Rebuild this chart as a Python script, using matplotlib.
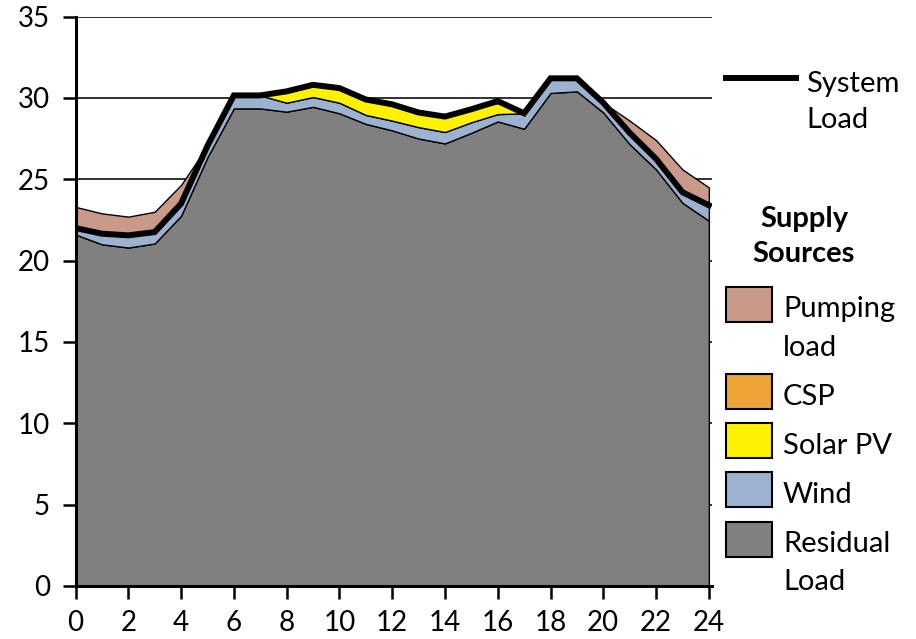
import matplotlib
matplotlib.use("Agg")
import matplotlib.pyplot as plt
from matplotlib.patches import Rectangle
from matplotlib.lines import Line2D
import numpy as np

# hourly values, GW
hours = list(range(25))
residual = [21.6, 21.0, 20.8, 21.05, 22.75, 26.35, 29.35, 29.35, 29.15, 29.45, 29.05, 28.4, 28.0,
            27.5, 27.2, 27.85, 28.55, 28.1, 30.3, 30.4, 29.1, 27.15, 25.6, 23.55, 22.45]
wind = [0.4, 0.65, 0.75, 0.7, 0.75, 0.7, 0.8, 0.8, 0.55, 0.6, 0.65, 0.55, 0.6,
        0.7, 0.7, 0.65, 0.45, 0.95, 0.9, 0.8, 0.6, 0.7, 0.65, 0.65, 0.95]
solar_pv = [0, 0, 0, 0, 0, 0, 0, 0, 0.7, 0.75, 0.9, 0.95, 1.0,
            0.9, 0.95, 0.75, 0.7, 0, 0, 0, 0, 0, 0, 0, 0]
csp = [0, 0, 0, 0, 0, 0, 0, 0, 0, 0, 0, 0, 0,
       0, 0.02, 0.05, 0.1, 0, 0, 0, 0, 0, 0, 0, 0]
pumping = [1.3, 1.25, 1.15, 1.25, 1.15, 0, 0, 0, 0, 0, 0, 0, 0,
           0, 0, 0, 0, 0, 0, 0, 0, 0.75, 1.15, 1.4, 1.1]
system_load = [22.0, 21.65, 21.55, 21.75, 23.5, 27.05, 30.15, 30.15, 30.4, 30.8, 30.6, 29.9, 29.6,
               29.1, 28.85, 29.3, 29.8, 29.05, 31.2, 31.2, 29.7, 27.85, 26.25, 24.2, 23.4]

series = [("Residual\nLoad", residual, "#808080"),
          ("Wind", wind, "#9db2d1"),
          ("Solar PV", solar_pv, "#fff200"),
          ("CSP", csp, "#eda535"),
          ("Pumping\nload", pumping, "#c99a89")]

plt.rcParams['font.family'] = ['Lato', 'DejaVu Sans']

W, H = 916, 639
fig = plt.figure(figsize=(W / 100, H / 100), dpi=100)
ax = fig.add_axes([75.5 / W, 1 - 586 / H, (712 - 75.5) / W, (586 - 16.5) / H])

base = np.zeros(len(hours))
for name, vals, col in series:
    top = base + np.array(vals)
    ax.fill_between(hours, base, top, facecolor=col, edgecolor="black", linewidth=1.0, zorder=2)
    base = top
ax.plot(hours, system_load, color="black", linewidth=4.3, solid_joinstyle="miter", zorder=3)

ax.set_xlim(0, 24.12)
ax.set_ylim(0, 35)
ax.set_xticks(range(0, 25, 2))
ax.set_yticks(range(0, 36, 5))
ax.yaxis.grid(True, color="#222222", linewidth=1.3, zorder=0)
ax.set_axisbelow(True)
for s in ["top", "right"]:
    ax.spines[s].set_visible(False)
for s in ["left", "bottom"]:
    ax.spines[s].set_linewidth(2.2)
    ax.spines[s].set_zorder(4)
ax.tick_params(axis="both", labelsize=20, width=1.8, length=9.5, color="black")
ax.tick_params(axis="y", pad=9)
ax.tick_params(axis="x", pad=8)

# legend drawn by hand to mimic the Excel layout
def fx(x):
    return x / W

def fy(y):
    return 1 - y / H

fs = 21
fig.add_artist(Line2D([fx(726), fx(796)], [fy(78), fy(78)], color="black", linewidth=4.3))
fig.text(fx(806), fy(92), "System", fontsize=fs, va="baseline")
fig.text(fx(806), fy(128), "Load", fontsize=fs, va="baseline")
fig.text(fx(804), fy(227), "Supply", fontsize=fs, weight="bold", ha="center", va="baseline")
fig.text(fx(804), fy(262), "Sources", fontsize=fs, weight="bold", ha="center", va="baseline")

boxes = {"Pumping\nload": (287, [317, 356]),
         "CSP": (374, [405]),
         "Solar PV": (423, [454]),
         "Wind": (472, [503]),
         "Residual\nLoad": (522, [552, 590])}
for name, vals, col in series:
    ytop, baselines = boxes[name]
    fig.add_artist(Rectangle((fx(726), fy(ytop + 35)), 46 / W, 35 / H, facecolor=col,
                             edgecolor="black", linewidth=1.5, transform=fig.transFigure))
    for line, b in zip(name.split("\n"), baselines):
        fig.text(fx(783), fy(b), line, fontsize=fs, va="baseline")

fig.savefig("out.png", dpi=100)
